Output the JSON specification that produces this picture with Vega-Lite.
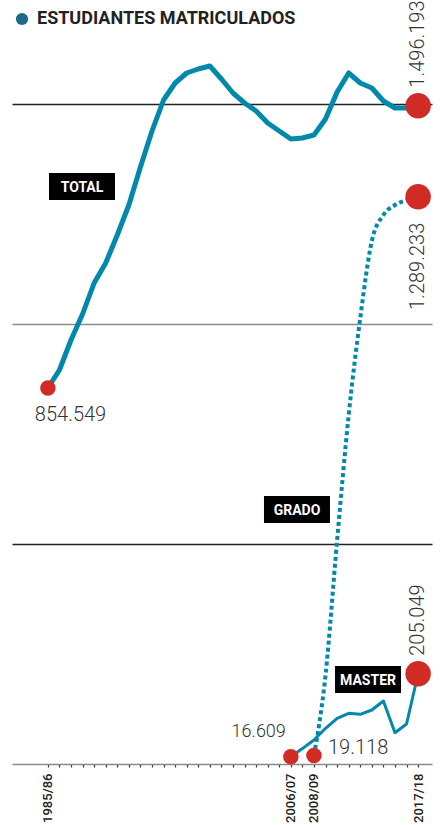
{
  "$schema": "https://vega.github.io/schema/vega-lite/v6.json",
  "width": 420,
  "height": 726,
  "autosize": {"type": "none"},
  "padding": {"left": 12, "top": 38, "right": 11, "bottom": 61},
  "config": {
    "view": {"stroke": null},
    "locale": {"number": {"decimal": ",", "thousands": ".", "grouping": [3], "currency": ["", " €"]}},
    "text": {"font": "Roboto", "fontWeight": 300, "fontSize": 20, "color": "#333333"}
  },
  "datasets": {
    "series": [
      {"serie": "TOTAL", "year": 1985, "value": 854549},
      {"serie": "TOTAL", "year": 1986, "value": 895455},
      {"serie": "TOTAL", "year": 1987, "value": 963636},
      {"serie": "TOTAL", "year": 1988, "value": 1022727},
      {"serie": "TOTAL", "year": 1989, "value": 1093182},
      {"serie": "TOTAL", "year": 1990, "value": 1138636},
      {"serie": "TOTAL", "year": 1991, "value": 1202273},
      {"serie": "TOTAL", "year": 1992, "value": 1270455},
      {"serie": "TOTAL", "year": 1993, "value": 1356818},
      {"serie": "TOTAL", "year": 1994, "value": 1438636},
      {"serie": "TOTAL", "year": 1995, "value": 1509091},
      {"serie": "TOTAL", "year": 1996, "value": 1547727},
      {"serie": "TOTAL", "year": 1997, "value": 1570455},
      {"serie": "TOTAL", "year": 1998, "value": 1579545},
      {"serie": "TOTAL", "year": 1999, "value": 1586364},
      {"serie": "TOTAL", "year": 2000, "value": 1556818},
      {"serie": "TOTAL", "year": 2001, "value": 1525000},
      {"serie": "TOTAL", "year": 2002, "value": 1502273},
      {"serie": "TOTAL", "year": 2003, "value": 1484091},
      {"serie": "TOTAL", "year": 2004, "value": 1456818},
      {"serie": "TOTAL", "year": 2005, "value": 1438636},
      {"serie": "TOTAL", "year": 2006, "value": 1420455},
      {"serie": "TOTAL", "year": 2007, "value": 1422727},
      {"serie": "TOTAL", "year": 2008, "value": 1429545},
      {"serie": "TOTAL", "year": 2009, "value": 1465909},
      {"serie": "TOTAL", "year": 2010, "value": 1527273},
      {"serie": "TOTAL", "year": 2011, "value": 1570455},
      {"serie": "TOTAL", "year": 2012, "value": 1547727},
      {"serie": "TOTAL", "year": 2013, "value": 1536364},
      {"serie": "TOTAL", "year": 2014, "value": 1506818},
      {"serie": "TOTAL", "year": 2015, "value": 1490909},
      {"serie": "TOTAL", "year": 2016, "value": 1490909},
      {"serie": "TOTAL", "year": 2017, "value": 1496193},
      {"serie": "MASTER", "year": 2006, "value": 16609},
      {"serie": "MASTER", "year": 2007, "value": 35000},
      {"serie": "MASTER", "year": 2008, "value": 54545},
      {"serie": "MASTER", "year": 2009, "value": 81136},
      {"serie": "MASTER", "year": 2010, "value": 103863},
      {"serie": "MASTER", "year": 2011, "value": 115227},
      {"serie": "MASTER", "year": 2012, "value": 112955},
      {"serie": "MASTER", "year": 2013, "value": 122727},
      {"serie": "MASTER", "year": 2014, "value": 143182},
      {"serie": "MASTER", "year": 2015, "value": 71136},
      {"serie": "MASTER", "year": 2016, "value": 90909},
      {"serie": "MASTER", "year": 2017, "value": 205049},
      {"serie": "GRADO", "year": 2008, "value": 19118},
      {"serie": "GRADO", "year": 2009, "value": 202273},
      {"serie": "GRADO", "year": 2010, "value": 509091},
      {"serie": "GRADO", "year": 2011, "value": 793182},
      {"serie": "GRADO", "year": 2012, "value": 1013636},
      {"serie": "GRADO", "year": 2013, "value": 1188636},
      {"serie": "GRADO", "year": 2014, "value": 1247727},
      {"serie": "GRADO", "year": 2015, "value": 1270455},
      {"serie": "GRADO", "year": 2016, "value": 1281818},
      {"serie": "GRADO", "year": 2017, "value": 1289233}
    ],
    "etiquetas": [
      {"label": "TOTAL", "year": 1987.95, "value": 1312500},
      {"label": "GRADO", "year": 2006.53, "value": 578409},
      {"label": "MASTER", "year": 2012.67, "value": 192045}
    ]
  },
  "encoding": {
    "x": {
      "field": "year", "type": "quantitative",
      "scale": {"domain": [1981.9, 2018.2], "nice": false, "zero": false},
      "axis": {
        "title": null,
        "values": [1985,1986,1987,1988,1989,1990,1991,1992,1993,1994,1995,1996,1997,1998,1999,2000,2001,2002,2003,2004,2005,2006,2007,2008,2009,2010,2011,2012,2013,2014,2015,2016,2017],
        "labelExpr": "indexof([1985, 2006, 2008, 2017], datum.value) >= 0 ? datum.value + '/' + substring(toString(datum.value + 1), 2) : ''",
        "labelAngle": 270,
        "labelAlign": "right",
        "labelBaseline": "middle",
        "labelPadding": 6,
        "labelFont": "Roboto",
        "labelFontSize": 13,
        "labelFontWeight": 500,
        "labelColor": "#222222",
        "labelOverlap": false,
        "labelFlush": false,
        "grid": false,
        "domainColor": "#8a8a8a",
        "domainWidth": 1.5,
        "tickColor": "#333333",
        "tickSize": 3,
        "tickWidth": 1.2
      }
    },
    "y": {
      "field": "value", "type": "quantitative",
      "scale": {"domain": [0, 1650000], "nice": false},
      "axis": {
        "title": null,
        "values": [500000, 1000000, 1500000],
        "labels": false,
        "ticks": false,
        "domain": false,
        "grid": true,
        "gridColor": {"condition": {"test": "datum.value === 1000000", "value": "#8a8a8a"}, "value": "#222222"},
        "gridWidth": 1.3
      }
    }
  },
  "layer": [
    {
      "data": {"name": "series"},
      "transform": [{"filter": "datum.serie === 'TOTAL'"}],
      "mark": {"type": "line", "strokeWidth": 5, "strokeJoin": "round"},
      "encoding": {
        "color": {
          "datum": "ESTUDIANTES MATRICULADOS",
          "scale": {"range": ["#0089aa"]},
          "legend": {
            "title": null,
            "orient": "none",
            "legendX": 1,
            "legendY": -28,
            "padding": 0,
            "symbolType": "circle",
            "symbolSize": 150,
            "symbolFillColor": "#1f6a87",
            "symbolStrokeColor": "#1f6a87",
            "labelFont": "Roboto",
            "labelFontWeight": "bold",
            "labelFontSize": 18,
            "labelColor": "#222222",
            "labelOffset": 6,
            "labelLimit": 400,
            "encode": {
              "symbols": {"update": {"fill": {"value": "#1f6a87"}, "stroke": {"value": "#1f6a87"}, "strokeWidth": {"value": 0}, "opacity": {"value": 1}}}
            }
          }
        }
      }
    },
    {
      "data": {"name": "series"},
      "transform": [{"filter": "datum.serie === 'MASTER'"}],
      "mark": {"type": "line", "strokeWidth": 3, "color": "#0089aa", "strokeJoin": "round"},
      "encoding": {}
    },
    {
      "data": {"name": "series"},
      "transform": [{"filter": "datum.serie === 'GRADO'"}],
      "mark": {"type": "line", "strokeWidth": 4, "color": "#0089aa", "interpolate": "monotone", "strokeDash": [4, 3]},
      "encoding": {}
    },
    {
      "data": {"name": "series"},
      "transform": [{"filter": "(datum.serie === 'TOTAL' && datum.year === 1985) || (datum.serie === 'MASTER' && datum.year === 2006) || (datum.serie === 'GRADO' && datum.year === 2008)"}],
      "mark": {"type": "point", "filled": true, "color": "#d12b26", "opacity": 1, "size": 240}
    },
    {
      "data": {"name": "series"},
      "transform": [{"filter": "datum.year === 2017"}],
      "mark": {"type": "point", "filled": true, "color": "#d12b26", "opacity": 1, "size": 650}
    },
    {
      "data": {"name": "series"},
      "transform": [{"filter": "datum.serie === 'TOTAL' && datum.year === 1985"}],
      "mark": {"type": "text", "align": "left", "baseline": "top", "dx": -13, "dy": 17},
      "encoding": {"text": {"field": "value", "type": "quantitative", "format": ",d"}}
    },
    {
      "data": {"name": "series"},
      "transform": [{"filter": "datum.year === 2017 && datum.serie !== 'GRADO'"}],
      "mark": {"type": "text", "angle": 270, "align": "left", "baseline": "middle", "dx": 18},
      "encoding": {"text": {"field": "value", "type": "quantitative", "format": ",d"}}
    },
    {
      "data": {"name": "series"},
      "transform": [{"filter": "datum.year === 2017 && datum.serie === 'GRADO'"}],
      "mark": {"type": "text", "angle": 270, "align": "right", "baseline": "middle", "dx": -26},
      "encoding": {"text": {"field": "value", "type": "quantitative", "format": ",d"}}
    },
    {
      "data": {"name": "series"},
      "transform": [{"filter": "datum.year === 2006 && datum.serie === 'MASTER'"}],
      "mark": {"type": "text", "align": "right", "baseline": "middle", "dx": -5, "dy": -25, "fontSize": 18},
      "encoding": {"text": {"field": "value", "type": "quantitative", "format": ",d"}}
    },
    {
      "data": {"name": "series"},
      "transform": [{"filter": "datum.year === 2008 && datum.serie === 'GRADO'"}],
      "mark": {"type": "text", "align": "left", "baseline": "middle", "dx": 14, "dy": -8},
      "encoding": {"text": {"field": "value", "type": "quantitative", "format": ",d"}}
    },
    {
      "data": {"name": "etiquetas"},
      "mark": {"type": "point", "filled": true, "color": "#000000", "opacity": 1, "size": 4356, "shape": "M-1,-0.41L1,-0.41L1,0.41L-1,0.41Z"}
    },
    {
      "data": {"name": "etiquetas"},
      "mark": {"type": "text", "color": "#ffffff", "font": "Roboto", "fontWeight": "bold", "fontSize": 14, "align": "center", "baseline": "middle", "dy": 1},
      "encoding": {"text": {"field": "label"}}
    }
  ]
}
